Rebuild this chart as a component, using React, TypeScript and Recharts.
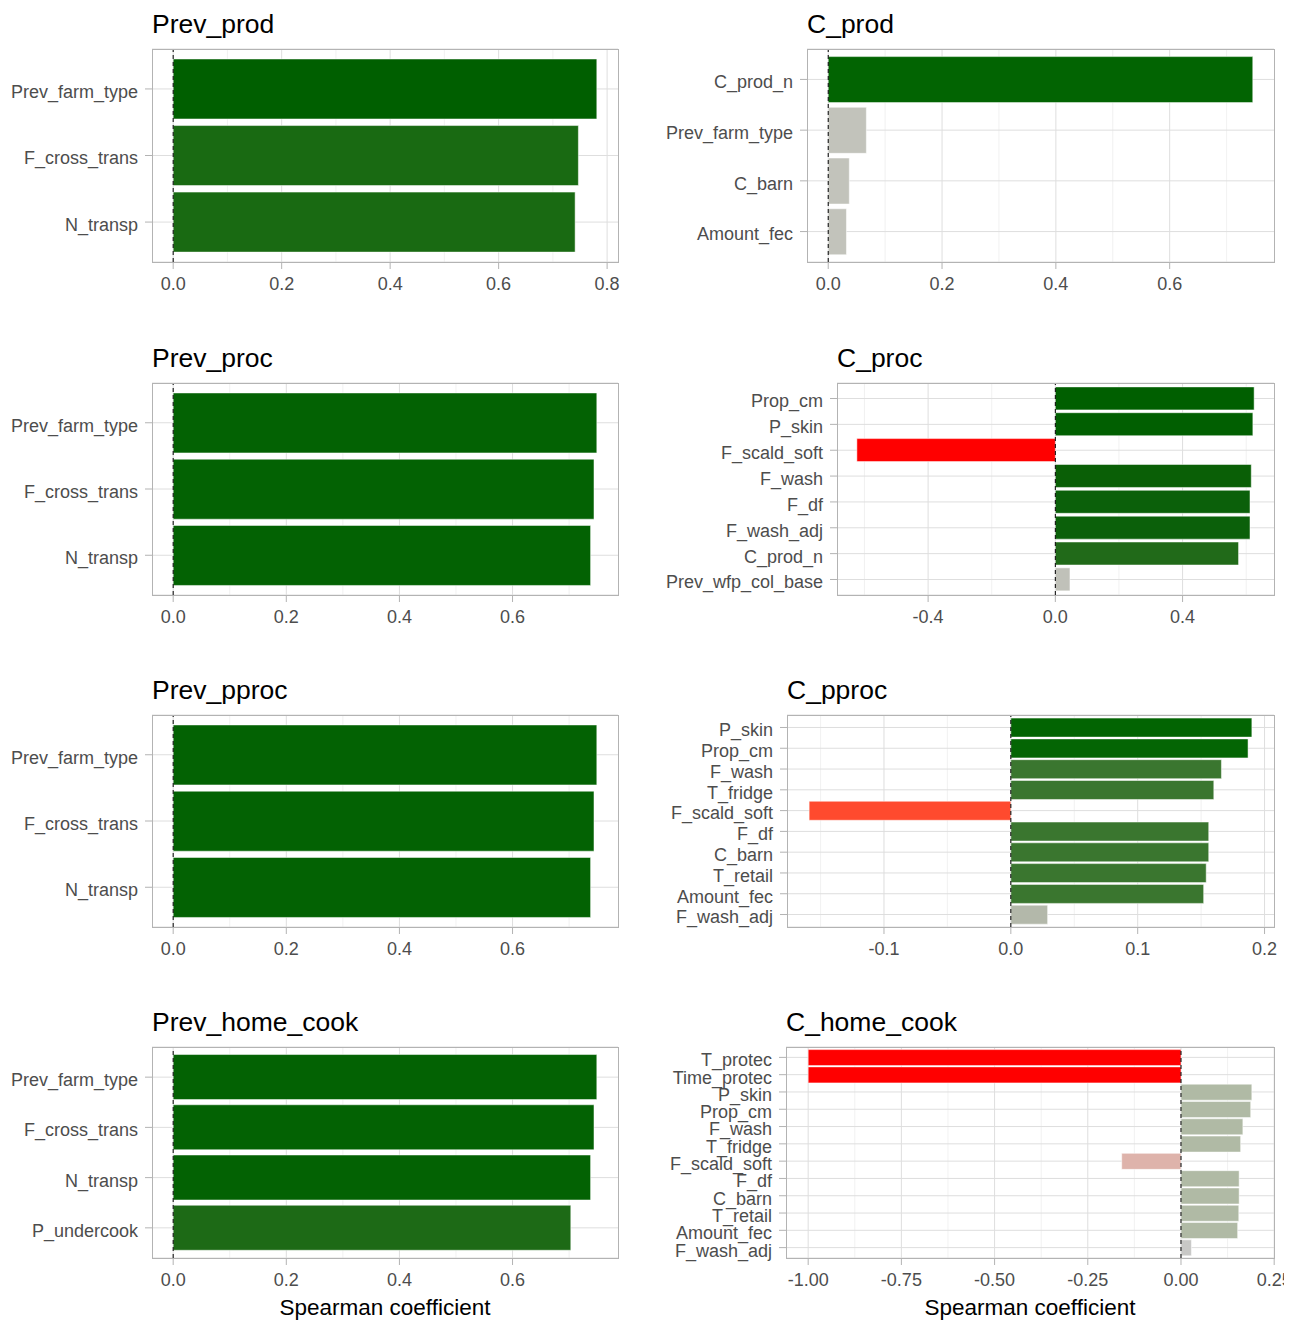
import { BarChart, Bar, Cell, XAxis, YAxis, CartesianGrid, ReferenceLine } from 'recharts';

// ---- data ----
const prevLabels = ['Prev_farm_type', 'F_cross_trans', 'N_transp'];

const prevProdValues = [0.781, 0.747, 0.741];
const prevProdColors = ['#005f00', '#196a12', '#196a12'];

const cProdLabels = ['C_prod_n', 'Prev_farm_type', 'C_barn', 'Amount_fec'];
const cProdValues = [0.746, 0.067, 0.037, 0.032];
const cProdColors = ['#026402', '#c2c3bb', '#c2c3bb', '#c2c3bb'];

const prevProcValues = [0.749, 0.744, 0.738];
const prevProcColors = ['#036203', '#036203', '#036203'];

const cProcLabels = ['Prop_cm', 'P_skin', 'F_scald_soft', 'F_wash', 'F_df', 'F_wash_adj', 'C_prod_n', 'Prev_wfp_col_base'];
const cProcValues = [0.625, 0.621, -0.624, 0.616, 0.612, 0.612, 0.576, 0.046];
const cProcColors = ['#005f00', '#015f01', '#ff0000', '#0a5f06', '#0b600a', '#0b600a', '#216a19', '#c0c1b9'];

const prevPprocValues = [0.749, 0.744, 0.738];
const prevPprocColors = ['#036203', '#036203', '#036203'];

const cPprocLabels = ['P_skin', 'Prop_cm', 'F_wash', 'T_fridge', 'F_scald_soft', 'F_df', 'C_barn', 'T_retail', 'Amount_fec', 'F_wash_adj'];
const cPprocValues = [0.19, 0.187, 0.166, 0.16, -0.159, 0.156, 0.156, 0.154, 0.152, 0.029];
const cPprocColors = ['#026402', '#046504', '#3a762f', '#3a762f', '#ff4a2e', '#3a762f', '#3a762f', '#3a762f', '#3a762f', '#b3b8aa'];

const prevHomeLabels = ['Prev_farm_type', 'F_cross_trans', 'N_transp', 'P_undercook'];
const prevHomeValues = [0.749, 0.744, 0.738, 0.703];
const prevHomeColors = ['#036203', '#036203', '#036203', '#1d6a16'];

const cHomeLabels = ['T_protec', 'Time_protec', 'P_skin', 'Prop_cm', 'F_wash', 'T_fridge', 'F_scald_soft', 'F_df', 'C_barn', 'T_retail', 'Amount_fec', 'F_wash_adj'];
const cHomeValues = [-1.0, -1.0, 0.19, 0.187, 0.166, 0.16, -0.159, 0.156, 0.156, 0.155, 0.152, 0.028];
const cHomeColors = ['#ff0000', '#ff0000', '#b0baa5', '#b0baa5', '#b0baa5', '#b0baa5', '#deb3ab', '#b0baa5', '#b0baa5', '#b0baa5', '#b0baa5', '#c8c8c6'];

// axis breaks
const ticksTo08 = [0, 0.2, 0.4, 0.6, 0.8];
const ticksTo06 = [0, 0.2, 0.4, 0.6];
const minorTo07 = [0.1, 0.3, 0.5, 0.7];
const ticksProc = [-0.4, 0, 0.4];
const minorProc = [-0.6, -0.2, 0.2, 0.6];
const ticksPproc = [-0.1, 0, 0.1, 0.2];
const minorPproc = [-0.15, -0.05, 0.05, 0.15];
const ticksHome = [-1, -0.75, -0.5, -0.25, 0, 0.25];
const minorHome = [-0.875, -0.625, -0.375, -0.125, 0.125];

const FONT = '"Liberation Sans", Arial, sans-serif';
const tickStyle = { fill: '#4d4d4d', fontSize: 18, fontFamily: FONT };

interface PanelProps {
  title: string;
  labels: string[];
  values: number[];
  colors: string[];
  ticks: number[];
  minor: number[];
  digits: number;
  left: number;
  plotLeft: number;
  plotRight: number;
  plotTop: number;
  plotHeight: number;
  axisTitle?: string;
  clipRight?: number;
}

function Panel(p: PanelProps) {
  const rows = p.labels.map((name, i) => ({ name, value: p.values[i] }));
  // ggplot-style 5% expansion around the data (zero line included)
  const lo = Math.min(0, ...p.values);
  const hi = Math.max(0, ...p.values);
  const pad = (hi - lo) * 0.05;
  const domain = [lo - pad, hi + pad];
  // discrete axis: 0.6 units past the outer categories
  const unit = p.plotHeight / (p.labels.length + 0.2);
  const yPad = unit * 0.1;

  const marginTop = 10;
  const xh = p.axisTitle ? 62 : 40;
  const yw = p.plotLeft - p.left;
  const width = p.plotRight - p.left + 30;
  const height = marginTop + p.plotHeight + xh;
  const chartTop = p.plotTop - marginTop;

  return (
    <>
      <div
        style={{
          position: 'absolute',
          left: p.plotLeft,
          top: p.plotTop - 38,
          fontFamily: FONT,
          fontSize: 26.5,
          lineHeight: '26px',
          color: '#000',
          whiteSpace: 'nowrap',
        }}
      >
        {p.title}
      </div>
      <div
        style={{
          position: 'absolute',
          left: p.left,
          top: chartTop,
          width: p.clipRight ? p.clipRight - p.left : width,
          height,
          overflow: 'hidden',
        }}
      >
        <BarChart
          width={width}
          height={height}
          data={rows}
          layout="vertical"
          margin={{ top: marginTop, right: width - (p.plotRight - p.left), bottom: 0, left: 0 }}
          barCategoryGap="5%"
        >
          <CartesianGrid horizontal={false} verticalValues={p.minor} stroke="#ededed" strokeWidth={0.8} />
          <CartesianGrid verticalValues={p.ticks} stroke="#dedede" strokeWidth={1} />
          <XAxis
            type="number"
            domain={domain}
            allowDataOverflow
            ticks={p.ticks}
            interval={0}
            tickFormatter={(v: number) => v.toFixed(p.digits)}
            axisLine={false}
            tickLine={{ stroke: '#b3b3b3' }}
            tickSize={7}
            tickMargin={8}
            height={xh}
            tick={tickStyle}
            label={
              p.axisTitle
                ? { value: p.axisTitle, position: 'insideBottom', offset: 5, fill: '#000', fontSize: 22.5, fontFamily: FONT }
                : undefined
            }
          />
          <YAxis
            type="category"
            dataKey="name"
            width={yw}
            interval={0}
            axisLine={false}
            tickLine={{ stroke: '#b3b3b3' }}
            tickSize={7}
            tickMargin={7}
            padding={{ top: yPad, bottom: yPad }}
            tick={{ ...tickStyle, dy: 2.5 }}
          />
          <Bar dataKey="value" isAnimationActive={false} stroke="#ffffff" strokeWidth={0.5}>
            {rows.map((r, i) => (
              <Cell key={r.name + i} fill={p.colors[i]} />
            ))}
          </Bar>
          <ReferenceLine x={0} stroke="#000" strokeDasharray="4 3" strokeWidth={1} />
        </BarChart>
      </div>
      <div
        style={{
          position: 'absolute',
          left: p.plotLeft,
          top: p.plotTop,
          width: p.plotRight - p.plotLeft + 1,
          height: p.plotHeight + 1,
          boxSizing: 'border-box',
          border: '1px solid #b3b3b3',
          pointerEvents: 'none',
        }}
      />
    </>
  );
}

export default function App() {
  return (
    <div style={{ position: 'absolute', left: 0, top: 0, width: 1304, height: 1320, background: '#fff', overflow: 'hidden' }}>
      <Panel title="Prev_prod" labels={prevLabels} values={prevProdValues} colors={prevProdColors}
        ticks={ticksTo08} minor={minorTo07} digits={1}
        left={0} plotLeft={152} plotRight={618} plotTop={49} plotHeight={213} />
      <Panel title="C_prod" labels={cProdLabels} values={cProdValues} colors={cProdColors}
        ticks={ticksTo06} minor={minorTo07} digits={1}
        left={650} plotLeft={807} plotRight={1274} plotTop={49} plotHeight={213} />

      <Panel title="Prev_proc" labels={prevLabels} values={prevProcValues} colors={prevProcColors}
        ticks={ticksTo06} minor={minorTo07} digits={1}
        left={0} plotLeft={152} plotRight={618} plotTop={383} plotHeight={212} />
      <Panel title="C_proc" labels={cProcLabels} values={cProcValues} colors={cProcColors}
        ticks={ticksProc} minor={minorProc} digits={1}
        left={650} plotLeft={837} plotRight={1274} plotTop={383} plotHeight={212} />

      <Panel title="Prev_pproc" labels={prevLabels} values={prevPprocValues} colors={prevPprocColors}
        ticks={ticksTo06} minor={minorTo07} digits={1}
        left={0} plotLeft={152} plotRight={618} plotTop={715} plotHeight={212} />
      <Panel title="C_pproc" labels={cPprocLabels} values={cPprocValues} colors={cPprocColors}
        ticks={ticksPproc} minor={minorPproc} digits={1}
        left={650} plotLeft={787} plotRight={1274} plotTop={715} plotHeight={212} />

      <Panel title="Prev_home_cook" labels={prevHomeLabels} values={prevHomeValues} colors={prevHomeColors}
        ticks={ticksTo06} minor={minorTo07} digits={1}
        left={0} plotLeft={152} plotRight={618} plotTop={1047} plotHeight={211}
        axisTitle="Spearman coefficient" />
      <Panel title="C_home_cook" labels={cHomeLabels} values={cHomeValues} colors={cHomeColors}
        ticks={ticksHome} minor={minorHome} digits={2}
        left={650} plotLeft={786} plotRight={1274} plotTop={1047} plotHeight={211}
        axisTitle="Spearman coefficient" clipRight={1284} />
    </div>
  );
}
